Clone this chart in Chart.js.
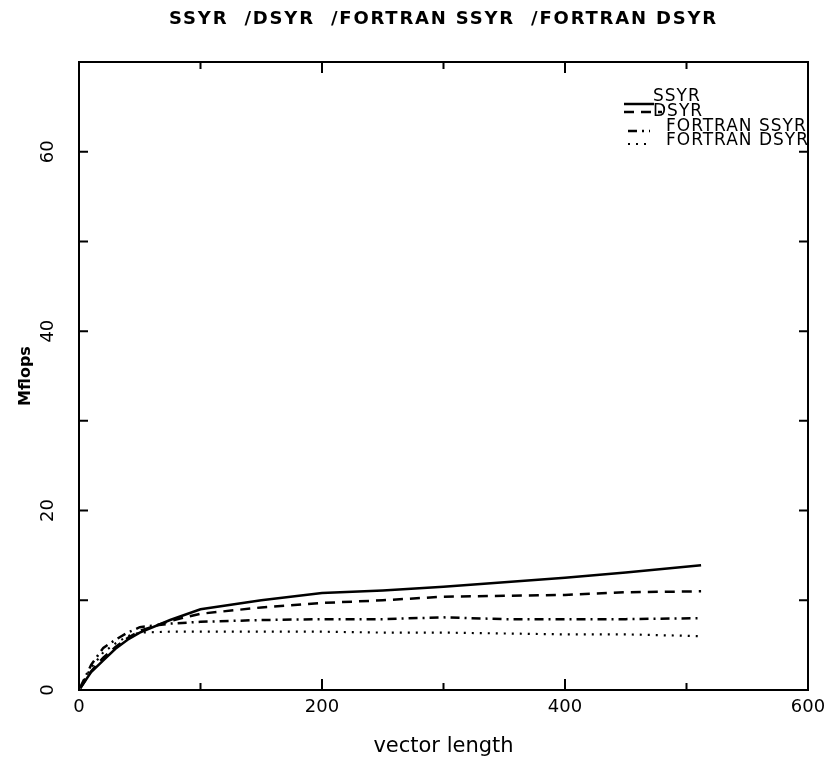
<!DOCTYPE html>
<html>
<head>
<meta charset="utf-8">
<script src="https://cdn.jsdelivr.net/npm/chart.js@4.4.1/dist/chart.umd.min.js"></script>
<style>
  html, body { margin: 0; padding: 0; background: #fff; }
  #wrap { width: 834px; height: 765px; }
</style>
</head>
<body>
<div id="wrap"><canvas id="myChart" width="834" height="765"></canvas></div>
<script>
// vector lengths
const lengths = [1, 10, 20, 30, 40, 50, 75, 100, 150, 200, 250, 300, 350, 400, 450, 512];

// Mflops per routine
const ssyr        = [0.2, 2.0, 3.3, 4.6, 5.6, 6.4, 7.8, 9.0, 10.0, 10.8, 11.1, 11.5, 12.0, 12.5, 13.1, 13.9];
const dsyr        = [0.2, 2.1, 3.6, 4.8, 5.8, 6.6, 7.7, 8.5, 9.2, 9.7, 10.0, 10.4, 10.5, 10.6, 10.9, 11.0];
const fortranSsyr = [0.3, 2.8, 4.7, 5.6, 6.4, 7.0, 7.4, 7.6, 7.8, 7.9, 7.9, 8.1, 7.9, 7.9, 7.9, 8.0];
const fortranDsyr = [0.3, 2.5, 4.2, 5.2, 6.0, 6.4, 6.5, 6.5, 6.5, 6.5, 6.4, 6.4, 6.3, 6.2, 6.2, 6.0];

const seriesNames = ['SSYR', 'DSYR', 'FORTRAN SSYR', 'FORTRAN DSYR'];

// axis ticks
const xLabelTicks = [0, 200, 400, 600];
const yLabelTicks = [0, 20, 40, 60];

const FONT = 'DejaVu Sans, Liberation Sans, sans-serif';

const toPoints = (ys) => lengths.map((x, i) => ({ x: x, y: ys[i] }));

// inward ticks on all four sides plus the box
const frameTicks = {
  id: 'frameTicks',
  afterDraw(chart) {
    const { ctx, chartArea: a, scales } = chart;
    ctx.save();
    ctx.strokeStyle = '#000';
    ctx.lineWidth = 2;
    ctx.strokeRect(a.left, a.top, a.right - a.left, a.bottom - a.top);
    scales.x.ticks.forEach(t => {
      const px = scales.x.getPixelForValue(t.value);
      const len = xLabelTicks.includes(t.value) ? 11 : 7;
      ctx.beginPath();
      ctx.moveTo(px, a.bottom); ctx.lineTo(px, a.bottom - len);
      ctx.moveTo(px, a.top); ctx.lineTo(px, a.top + len);
      ctx.stroke();
    });
    scales.y.ticks.forEach(t => {
      const py = scales.y.getPixelForValue(t.value);
      const len = 9;
      ctx.beginPath();
      ctx.moveTo(a.left, py); ctx.lineTo(a.left + len, py);
      ctx.moveTo(a.right, py); ctx.lineTo(a.right - len, py);
      ctx.stroke();
    });
    ctx.restore();
  }
};

// title centred over the plot box, wide lettering
const boxTitle = {
  id: 'boxTitle',
  afterDraw(chart) {
    const { ctx, chartArea: a } = chart;
    ctx.save();
    ctx.font = 'bold 18px ' + FONT;
    ctx.letterSpacing = '1.8px';
    ctx.fillStyle = '#000';
    ctx.textAlign = 'center';
    ctx.textBaseline = 'middle';
    ctx.fillText(seriesNames.join('  /'), (a.left + a.right) / 2, 19);
    ctx.restore();
  }
};

// legend in the top right corner: line sample then name
const cornerLegend = {
  id: 'cornerLegend',
  afterDatasetsDraw(chart) {
    const { ctx } = chart;
    ctx.save();
    ctx.font = '17px ' + FONT;
    ctx.letterSpacing = '1px';
    ctx.textBaseline = 'middle';
    ctx.fillStyle = '#000';
    const rows = [97, 112, 127, 141];
    const textX = [653, 653, 666, 666];
    const lineY = [104, 112, 131, 144];
    const lineX = [[624, 654], [624, 662], [628, 650], [628, 646]];
    chart.data.datasets.forEach((ds, i) => {
      ctx.fillText(ds.label, textX[i], rows[i]);
      ctx.strokeStyle = '#000';
      ctx.lineWidth = ds.borderWidth;
      ctx.setLineDash(ds.borderDash || []);
      ctx.beginPath();
      ctx.moveTo(lineX[i][0], lineY[i]);
      ctx.lineTo(lineX[i][1], lineY[i]);
      ctx.stroke();
      ctx.setLineDash([]);
    });
    ctx.restore();
  }
};

new Chart(document.getElementById('myChart').getContext('2d'), {
  type: 'line',
  data: {
    datasets: [
      { label: seriesNames[0], data: toPoints(ssyr), borderWidth: 2.5, borderDash: [] },
      { label: seriesNames[1], data: toPoints(dsyr), borderWidth: 2.5, borderDash: [10, 7] },
      { label: seriesNames[2], data: toPoints(fortranSsyr), borderWidth: 2.5, borderDash: [9, 5, 2, 5] },
      { label: seriesNames[3], data: toPoints(fortranDsyr), borderWidth: 2.2, borderDash: [2, 6] }
    ].map(d => Object.assign(d, {
      borderColor: '#000',
      backgroundColor: '#000',
      pointRadius: 0,
      tension: 0,
      fill: false
    }))
  },
  options: {
    responsive: false,
    animation: false,
    layout: { padding: { top: 62, right: 26, left: 12, bottom: 2 } },
    plugins: {
      legend: { display: false },
      tooltip: { enabled: false },
      title: { display: false }
    },
    scales: {
      x: {
        type: 'linear',
        min: 0,
        max: 600,
        grid: { display: false, drawTicks: false },
        border: { display: false },
        afterBuildTicks: (s) => { s.ticks = [0, 100, 200, 300, 400, 500, 600].map(v => ({ value: v })); },
        afterFit: (s) => { s.height = 73; },
        ticks: {
          color: '#000',
          padding: 7,
          maxRotation: 0,
          font: { family: FONT, size: 18 },
          callback: (v) => xLabelTicks.includes(v) ? String(v) : ''
        },
        title: {
          display: true,
          text: 'vector length',
          color: '#000',
          font: { family: FONT, size: 21 },
          padding: { top: 10 }
        }
      },
      y: {
        type: 'linear',
        min: 0,
        max: 70,
        grid: { display: false, drawTicks: false },
        border: { display: false },
        afterBuildTicks: (s) => { s.ticks = [0, 10, 20, 30, 40, 50, 60, 70].map(v => ({ value: v })); },
        afterFit: (s) => { s.width = 67; },
        ticks: {
          color: '#000',
          padding: 19,
          minRotation: 90,
          maxRotation: 90,
          crossAlign: 'center',
          font: { family: FONT, size: 18 },
          callback: (v) => yLabelTicks.includes(v) ? String(v) : ''
        },
        title: {
          display: true,
          text: 'Mflops',
          color: '#000',
          font: { family: FONT, size: 16, weight: 'bold' },
          padding: { bottom: 0 }
        }
      }
    }
  },
  plugins: [frameTicks, boxTitle, cornerLegend]
});
</script>
</body>
</html>
